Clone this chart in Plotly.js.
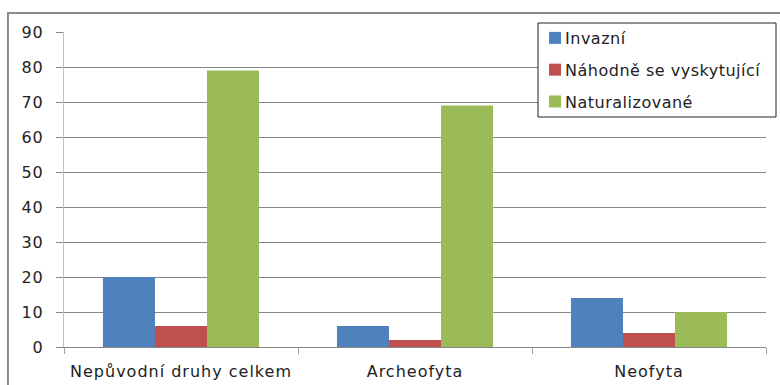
<!DOCTYPE html>
<html>
<head>
<meta charset="utf-8">
<script src="https://cdn.plot.ly/plotly-3.0.1.min.js"></script>
<style>
  html, body { margin: 0; padding: 0; background: #fff; }
  #chart { width: 780px; height: 385px; }
</style>
</head>
<body>
<div id="chart"></div>
<script>
// Categories and counts per status group
const categories = ['Nepůvodní druhy celkem', 'Archeofyta', 'Neofyta'];
const seriesNames = ['Invazní', 'Náhodně se vyskytující', 'Naturalizované'];
const invazni = [20, 6, 14];
const nahodne = [6, 2, 4];
const naturalizovane = [79, 69, 10];
const yTicks = [0, 10, 20, 30, 40, 50, 60, 70, 80, 90];

const colors = ['#4F81BD', '#C0504D', '#9BBB59'];
const values = [invazni, nahodne, naturalizovane];
const family = 'DejaVu Sans, Verdana, sans-serif';
const textColor = '#222';

const traces = values.map((v, i) => ({
  type: 'bar',
  name: seriesNames[i],
  x: categories,
  y: v,
  legendgroup: 'g' + i,
  marker: { color: colors[i], line: { width: 0 } },
  hoverinfo: 'none'
}));

const layout = {
  width: 780,
  height: 385,
  margin: { l: 64, r: 14, t: 32, b: 38 },
  paper_bgcolor: '#fff',
  plot_bgcolor: '#fff',
  font: { family: family, size: 16, color: textColor },
  barmode: 'group',
  bargap: 0.333,
  bargroupgap: 0,
  showlegend: true,
  legend: {
    x: 0.671, y: 1.035, xanchor: 'left', yanchor: 'top',
    borderwidth: 0, bgcolor: 'rgba(0,0,0,0)',
    font: { family: family, size: 16, color: textColor },
    traceorder: 'grouped', tracegroupgap: 8,
    itemwidth: 30
  },
  xaxis: {
    type: 'category',
    showgrid: false,
    showline: true, linecolor: '#868686', linewidth: 1,
    ticks: 'outside', tickson: 'boundaries', ticklen: 6, tickcolor: '#a0a0a0',
    ticklabelstandoff: 10,
    tickfont: { family: family, size: 16, color: textColor },
    fixedrange: true
  },
  yaxis: {
    range: [0, 90],
    tickvals: yTicks,
    ticktext: yTicks.map(String),
    showgrid: true, gridcolor: '#868686', gridwidth: 1,
    zeroline: false,
    showline: true, linecolor: '#c0c0c0', linewidth: 1,
    ticks: 'outside', ticklen: 7, tickcolor: '#868686',
    ticklabelstandoff: 9,
    tickfont: { family: family, size: 16, color: textColor },
    fixedrange: true
  },
  shapes: [
    // outer frame (left and top edges visible)
    {
      type: 'rect', xref: 'paper', yref: 'paper',
      x0: -0.0798, x1: 1.05, y0: -0.2, y1: 1.0603,
      line: { color: '#8c8c8c', width: 2 }, fillcolor: 'rgba(0,0,0,0)', layer: 'below'
    },
    // legend box
    {
      type: 'rect', xref: 'paper', yref: 'paper',
      x0: (538 - 64) / 702, x1: (776 - 64) / 702,
      y0: (347 - 117) / 315, y1: (347 - 23) / 315,
      line: { color: '#222', width: 1 }, fillcolor: '#fff', layer: 'above'
    }
  ]
};

Plotly.newPlot('chart', traces, layout, { displayModeBar: false, staticPlot: true }).then(gd => {
  // looser tracking for the labels
  gd.querySelectorAll('.xtick text, .ytick text').forEach(t => { t.style.letterSpacing = '1px'; });
  gd.querySelectorAll('.legendtext').forEach(t => {
    t.style.letterSpacing = '0.5px';
    t.setAttribute('x', String(parseFloat(t.getAttribute('x') || '40') - 10));
  });
  // the slightly wider legend text must not be clipped by the legend's own box
  gd.querySelectorAll('.legend .scrollbox, .legend').forEach(el => el.removeAttribute('clip-path'));
});
</script>
</body>
</html>
